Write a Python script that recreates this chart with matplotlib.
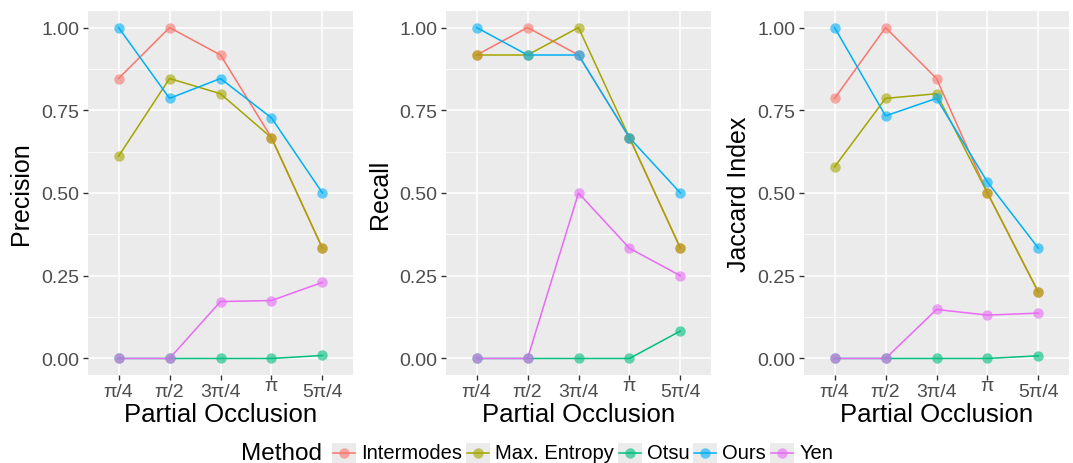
import matplotlib
matplotlib.use("Agg")
import matplotlib.pyplot as plt
from matplotlib.lines import Line2D
from matplotlib.patches import Rectangle
import matplotlib.transforms as mtransforms

plt.rcParams['font.family'] = ['Liberation Sans', 'DejaVu Sans']

x_labels = ["π/4", "π/2", "3π/4", "π", "5π/4"]
methods = ["Intermodes", "Max. Entropy", "Otsu", "Ours", "Yen"]
colors = ["#F8766D", "#A3A500", "#00BF7D", "#00B0F6", "#E76BF3"]

precision_intermodes = [0.846, 1.0, 0.917, 0.667, 0.333]
precision_maxent = [0.611, 0.846, 0.800, 0.667, 0.333]
precision_otsu = [0.0, 0.0, 0.0, 0.0, 0.009]
precision_ours = [1.0, 0.786, 0.846, 0.727, 0.5]
precision_yen = [0.0, 0.0, 0.172, 0.175, 0.230]

recall_intermodes = [0.917, 1.0, 0.917, 0.667, 0.333]
recall_maxent = [0.917, 0.917, 1.0, 0.667, 0.333]
recall_otsu = [0.0, 0.0, 0.0, 0.0, 0.083]
recall_ours = [1.0, 0.917, 0.917, 0.667, 0.5]
recall_yen = [0.0, 0.0, 0.5, 0.333, 0.25]

jaccard_intermodes = [0.786, 1.0, 0.846, 0.5, 0.2]
jaccard_maxent = [0.579, 0.786, 0.800, 0.5, 0.2]
jaccard_otsu = [0.0, 0.0, 0.0, 0.0, 0.008]
jaccard_ours = [1.0, 0.733, 0.786, 0.533, 0.333]
jaccard_yen = [0.0, 0.0, 0.148, 0.131, 0.137]

panels = [
    ("Precision", [precision_intermodes, precision_maxent, precision_otsu, precision_ours, precision_yen]),
    ("Recall", [recall_intermodes, recall_maxent, recall_otsu, recall_ours, recall_yen]),
    ("Jaccard Index", [jaccard_intermodes, jaccard_maxent, jaccard_otsu, jaccard_ours, jaccard_yen]),
]

W, H = 1073, 464
fig = plt.figure(figsize=(W / 100, H / 100), dpi=100)

def fx(px):
    return px / W

def fy(py):
    return 1 - py / H

lefts_px = [88, 446, 804]
width_px = 265
bottom_px, top_px = 376, 12
ylabel_right_px = [33, 392, 751]

xs = list(range(1, 6))
for i, (title, series) in enumerate(panels):
    ax = fig.add_axes([fx(lefts_px[i]), fy(bottom_px), width_px / W, (bottom_px - top_px) / H])
    ax.set_facecolor("#EBEBEB")
    for s in ax.spines.values():
        s.set_visible(False)
    ax.set_xlim(0.4, 5.6)
    ax.set_ylim(-0.05, 1.05)
    ax.set_yticks([0, 0.25, 0.5, 0.75, 1.0])
    ax.set_yticklabels(["0.00", "0.25", "0.50", "0.75", "1.00"])
    ax.set_yticks([0.125, 0.375, 0.625, 0.875], minor=True)
    ax.set_xticks(xs)
    ax.set_xticklabels(x_labels)
    ax.grid(True, which="major", color="white", linewidth=1.1)
    ax.grid(True, which="minor", axis="y", color="white", linewidth=0.55)
    ax.set_axisbelow(True)
    ax.tick_params(axis="both", which="major", length=3.5, width=1.0, color="#333333",
                   labelcolor="#4D4D4D", labelsize=14, pad=2.5)
    ax.tick_params(axis="y", which="minor", length=0)
    for lab in ax.get_xticklabels():
        if lab.get_text() == "π":
            lab.set_transform(lab.get_transform() + mtransforms.ScaledTranslation(0, 6 / 100, fig.dpi_scale_trans))
    for vals, c in zip(series, colors):
        ax.plot(xs, vals, color=c, linewidth=1.1, zorder=2)
    for vals, c in zip(series, colors):
        ax.plot(xs, vals, linestyle="none", marker="o", markersize=7.5, color=c,
                alpha=0.6, markeredgewidth=0, zorder=3)
    ax.set_xlabel("Partial Occlusion", fontsize=18.5, labelpad=1)
    ax.set_ylabel(title, fontsize=18)
    ax.yaxis.set_label_coords(fx(ylabel_right_px[i]), fy((top_px + bottom_px) / 2),
                              transform=fig.transFigure)

# Legend (drawn manually to match ggplot's horizontal bottom legend)
renderer = fig.canvas.get_renderer()
legend_y = 454
legend_center_px = 537
key_w, key_h = 24, 20
gap_title, gap_key_text, gap_text_key = 10, 5, 4

title_txt = fig.text(0, fy(legend_y), "Method", fontsize=17.5, ha="left", va="center")
item_txts = [fig.text(0, fy(legend_y), m, fontsize=14.5, ha="left", va="center") for m in methods]
title_w = title_txt.get_window_extent(renderer).width
item_ws = [t.get_window_extent(renderer).width for t in item_txts]
total = title_w + gap_title + sum(key_w + gap_key_text + w for w in item_ws) + gap_text_key * (len(methods) - 1)
x0 = legend_center_px - total / 2
title_txt.set_x(fx(x0))
cur = x0 + title_w + gap_title
for c, t, w in zip(colors, item_txts, item_ws):
    fig.add_artist(Rectangle((fx(cur), fy(legend_y + key_h / 2)), key_w / W, key_h / H,
                             transform=fig.transFigure, facecolor="#EBEBEB", edgecolor="none"))
    fig.add_artist(Line2D([fx(cur + 1), fx(cur + key_w - 1)], [fy(legend_y - 0.5)] * 2,
                          transform=fig.transFigure, color=c, linewidth=1.1))
    fig.add_artist(Line2D([fx(cur + key_w / 2)], [fy(legend_y - 0.5)], transform=fig.transFigure,
                          linestyle="none", marker="o", markersize=7.5, color=c, alpha=0.6,
                          markeredgewidth=0))
    t.set_x(fx(cur + key_w + gap_key_text))
    cur += key_w + gap_key_text + w + gap_text_key

fig.savefig("out.png", dpi=100)
